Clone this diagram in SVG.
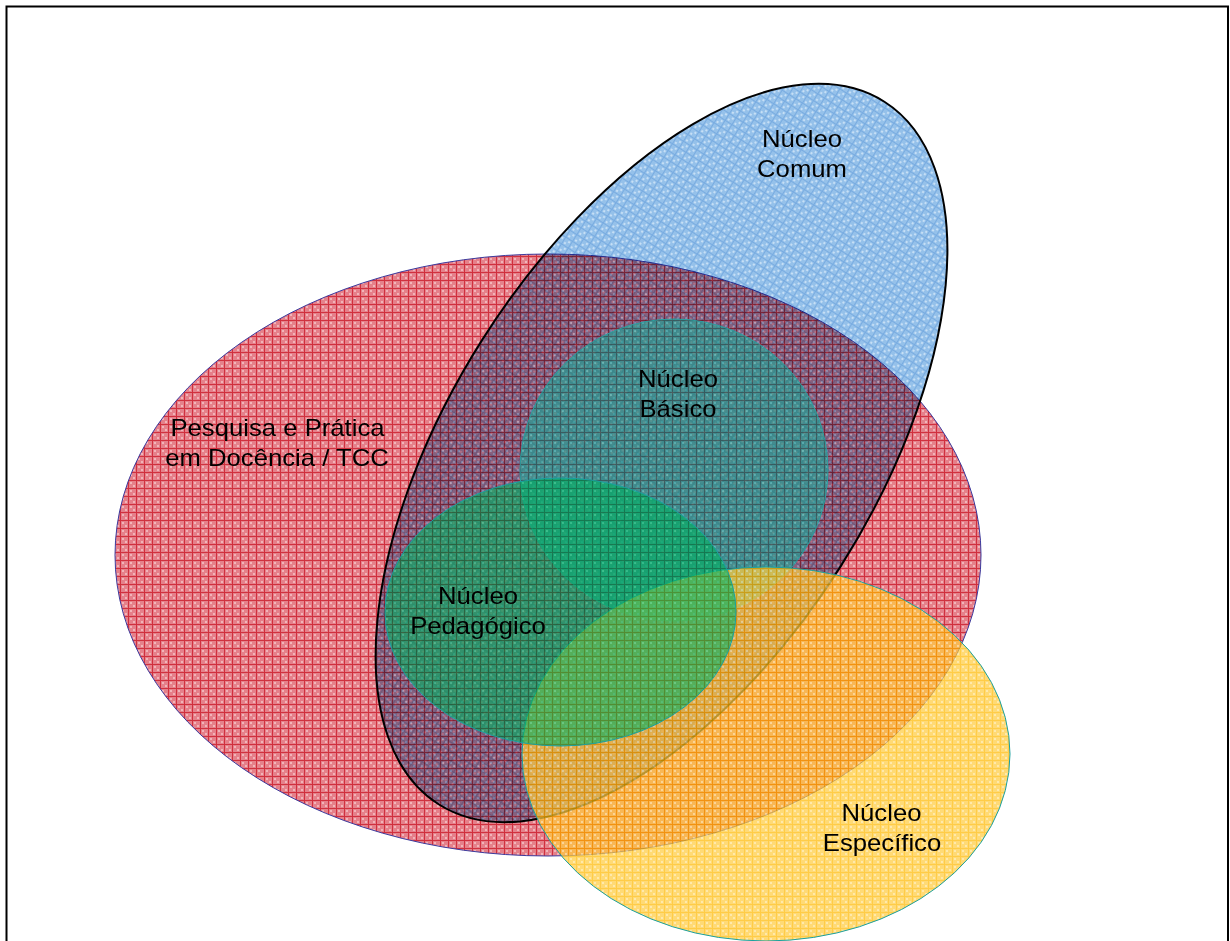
<svg xmlns="http://www.w3.org/2000/svg" width="1230" height="941" viewBox="0 0 1230 941">
  <defs>
    <pattern id="pRed" width="8" height="8" patternUnits="userSpaceOnUse">
      <rect width="8" height="8" fill="#e5808a"/>
      <rect x="2" y="2" width="2" height="2" fill="#f2b4b9"/>
      <rect x="5" y="5" width="2" height="2" fill="#f2b4b9"/>
      <path d="M0 0.5H8M0.5 0V8" stroke="#d0303e" stroke-width="1"/>
    </pattern>
    <pattern id="pBlue" width="8" height="8" patternUnits="userSpaceOnUse">
      <rect width="8" height="8" fill="#4f98dc"/>
      <rect x="2" y="2" width="2" height="2" fill="#a0c9ef"/>
      <rect x="5" y="5" width="2" height="2" fill="#a0c9ef"/>
      <path d="M0 0.5H8M0.5 0V8" stroke="#1f74cc" stroke-width="1"/>
    </pattern>
    <pattern id="pTeal" width="8" height="8" patternUnits="userSpaceOnUse">
      <rect width="8" height="8" fill="#10b09a"/>
      <rect x="2" y="2" width="2" height="2" fill="#30c8b0"/>
      <path d="M0 0.5H8M0.5 0V8" stroke="#0a8a80" stroke-width="1"/>
    </pattern>
    <pattern id="pGreen" width="8" height="8" patternUnits="userSpaceOnUse">
      <rect width="8" height="8" fill="#00b060"/>
      <rect x="2" y="2" width="2" height="2" fill="#20c474"/>
      <path d="M0 0.5H8M0.5 0V8" stroke="#008a48" stroke-width="1"/>
    </pattern>
    <pattern id="pYellow" width="8" height="8" patternUnits="userSpaceOnUse">
      <rect width="8" height="8" fill="#ffcc40"/>
      <rect x="2" y="2" width="2" height="2" fill="#ffe08a"/>
      <rect x="5" y="5" width="2" height="2" fill="#ffe08a"/>
      <path d="M0 0.5H8M0.5 0V8" stroke="#ffb800" stroke-width="1"/>
    </pattern>
  </defs>
  <style>
    .lbl { font-family: "Liberation Sans", Arial, sans-serif; font-size: 23px; fill: #000000; text-anchor: middle; }
  </style>
  <rect x="0" y="0" width="1230" height="941" fill="#ffffff"/>
  <rect id="frame" x="6.5" y="6.5" width="1221.5" height="945" fill="none" stroke="#000000" stroke-width="2"/>

  <g id="pesquisa">
    <ellipse cx="548" cy="555" rx="433" ry="301" fill="url(#pRed)" stroke="#3b3b9e" stroke-width="1"/>
  </g>
  <g id="comum">
    <ellipse cx="661.5" cy="453" rx="416" ry="212" transform="rotate(-57.6 661.5 453)" fill="url(#pBlue)" fill-opacity="0.6" style="mix-blend-mode:multiply"/>
    <ellipse cx="661.5" cy="453" rx="416" ry="212" transform="rotate(-57.6 661.5 453)" fill="none" stroke="#000000" stroke-width="2"/>
  </g>
  <g id="basico">
    <ellipse cx="674" cy="470" rx="154" ry="151" fill="url(#pTeal)" fill-opacity="0.55" stroke="#2a9fa0" stroke-width="1"/>
  </g>
  <g id="especifico">
    <ellipse cx="766" cy="754" rx="244" ry="187" fill="url(#pYellow)" fill-opacity="0.72" stroke="#1aa0a0" stroke-width="1"/>
  </g>
  <g id="pedagogico">
    <ellipse cx="560.5" cy="612" rx="175.5" ry="134" fill="url(#pGreen)" fill-opacity="0.62" stroke="#1aa0a0" stroke-width="1"/>
  </g>

  <g id="labels">
    <text class="lbl" transform="translate(802 146.5) scale(1.117 1)">Núcleo</text>
    <text class="lbl" transform="translate(802 177) scale(1.117 1)">Comum</text>
    <text class="lbl" transform="translate(678 387.3) scale(1.117 1)">Núcleo</text>
    <text class="lbl" transform="translate(678 417) scale(1.117 1)">Básico</text>
    <text class="lbl" transform="translate(277.5 436) scale(1.117 1)">Pesquisa e Prática</text>
    <text class="lbl" transform="translate(277 466) scale(1.117 1)">em Docência / TCC</text>
    <text class="lbl" transform="translate(478 604.3) scale(1.117 1)">Núcleo</text>
    <text class="lbl" transform="translate(478 634) scale(1.117 1)">Pedagógico</text>
    <text class="lbl" transform="translate(881.5 820.7) scale(1.117 1)">Núcleo</text>
    <text class="lbl" transform="translate(882 851) scale(1.117 1)">Específico</text>
  </g>
</svg>
